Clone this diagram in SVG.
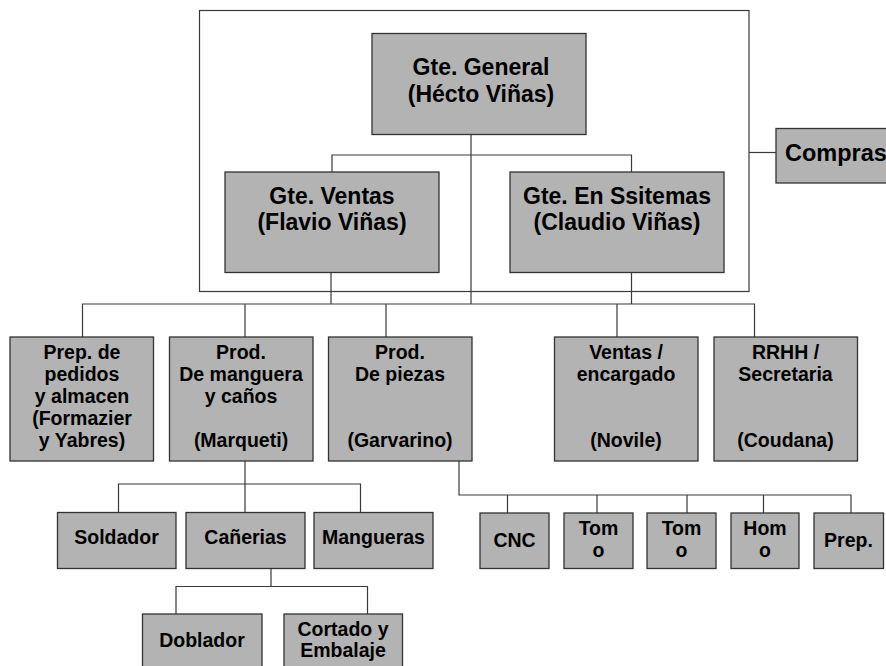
<svg xmlns="http://www.w3.org/2000/svg" width="886" height="666" viewBox="0 0 886 666">
<style>
.b{fill:#b3b3b3;stroke:#333;stroke-width:1.3}
.t{font-family:"Liberation Sans",Arial,sans-serif;font-weight:bold;fill:#000;text-anchor:middle}
.l{font-size:23px}
.m{font-size:19.5px}
.c{fill:none;stroke:#3a3a3a;stroke-width:1.2}
</style>
<rect width="886" height="666" fill="#fff"/>
<g id="connectors" class="c">
<rect x="199.5" y="10.5" width="549.5" height="281"/>
<path d="M471 134V304"/>
<path d="M332 172V155H631.5V172"/>
<path d="M749 152.5H776"/>
<path d="M331 272V304M631.5 272V304"/>
<path d="M82.5 337V304H754.5V337M245 304V337M386 304V337M617 304V337"/>
<path d="M245 461V512M118.5 512V484H360.5V512"/>
<path d="M271 568V586.5M176 614V586.5H367.5V614"/>
<path d="M459 461V495H851V513M507.5 495V513M597 495V513M687 495V513M763.5 495V513"/>
</g>
<g id="gte-general"><rect class="b" x="372" y="33.5" width="214" height="101"/><text class="t l" x="481" y="75">Gte. General</text><text class="t l" x="481" y="102">(Hécto Viñas)</text></g>
<g id="gte-ventas"><rect class="b" x="225" y="172" width="214" height="100.5"/><text class="t l" x="332" y="204">Gte. Ventas</text><text class="t l" x="332" y="230">(Flavio Viñas)</text></g>
<g id="gte-sistemas"><rect class="b" x="510" y="172" width="214" height="100.5"/><text class="t l" x="617" y="204">Gte. En Ssitemas</text><text class="t l" x="617" y="230">(Claudio Viñas)</text></g>
<g id="compras"><rect class="b" x="776" y="128.5" width="120" height="54.5"/><text class="t" x="785" y="161" style="text-anchor:start;font-size:23.5px">Compras</text></g>
<g id="prep-pedidos"><rect class="b" x="10" y="337" width="143.5" height="124"/><text class="t m" x="82" y="359">Prep. de</text><text class="t m" x="82" y="381">pedidos</text><text class="t m" x="82" y="403">y almacen</text><text class="t m" x="82" y="425">(Formazier</text><text class="t m" x="82" y="447">y Yabres)</text></g>
<g id="prod-manguera"><rect class="b" x="169.5" y="337" width="143.5" height="124"/><text class="t m" x="241" y="359">Prod.</text><text class="t m" x="241" y="381">De manguera</text><text class="t m" x="241" y="403">y caños</text><text class="t m" x="241" y="447">(Marqueti)</text></g>
<g id="prod-piezas"><rect class="b" x="328.5" y="337" width="143.5" height="124"/><text class="t m" x="400" y="359">Prod.</text><text class="t m" x="400" y="381">De piezas</text><text class="t m" x="400" y="447">(Garvarino)</text></g>
<g id="ventas-encargado"><rect class="b" x="554.5" y="337" width="143.5" height="124"/><text class="t m" x="626" y="359">Ventas /</text><text class="t m" x="626" y="381">encargado</text><text class="t m" x="626" y="447">(Novile)</text></g>
<g id="rrhh"><rect class="b" x="714" y="337" width="143.5" height="124"/><text class="t m" x="785.5" y="359">RRHH /</text><text class="t m" x="785.5" y="381">Secretaria</text><text class="t m" x="785.5" y="447">(Coudana)</text></g>
<g id="soldador"><rect class="b" x="57.5" y="512.5" width="118.5" height="56"/><text class="t m" x="116.5" y="544">Soldador</text></g>
<g id="canerias"><rect class="b" x="186" y="512.5" width="119" height="56"/><text class="t m" x="245.5" y="544">Cañerias</text></g>
<g id="mangueras"><rect class="b" x="314" y="512.5" width="119" height="56"/><text class="t m" x="373.5" y="544">Mangueras</text></g>
<g id="doblador"><rect class="b" x="142.5" y="614" width="119.5" height="60"/><text class="t m" x="202" y="647">Doblador</text></g>
<g id="cortado"><rect class="b" x="284" y="614" width="118.5" height="60"/><text class="t m" x="343" y="636">Cortado y</text><text class="t m" x="343" y="657">Embalaje</text></g>
<g id="cnc"><rect class="b" x="480" y="513" width="69" height="55.5"/><text class="t m" x="514.5" y="547">CNC</text></g>
<g id="tomo1"><rect class="b" x="564" y="513" width="69" height="55.5"/><text class="t m" x="598.5" y="535">Tom</text><text class="t m" x="598.5" y="557">o</text></g>
<g id="tomo2"><rect class="b" x="647" y="513" width="69" height="55.5"/><text class="t m" x="681.5" y="535">Tom</text><text class="t m" x="681.5" y="557">o</text></g>
<g id="homo"><rect class="b" x="731" y="513" width="68" height="55.5"/><text class="t m" x="765" y="535">Hom</text><text class="t m" x="765" y="557">o</text></g>
<g id="prep"><rect class="b" x="814" y="513" width="69.5" height="55.5"/><text class="t m" x="848.5" y="547">Prep.</text></g>
</svg>
